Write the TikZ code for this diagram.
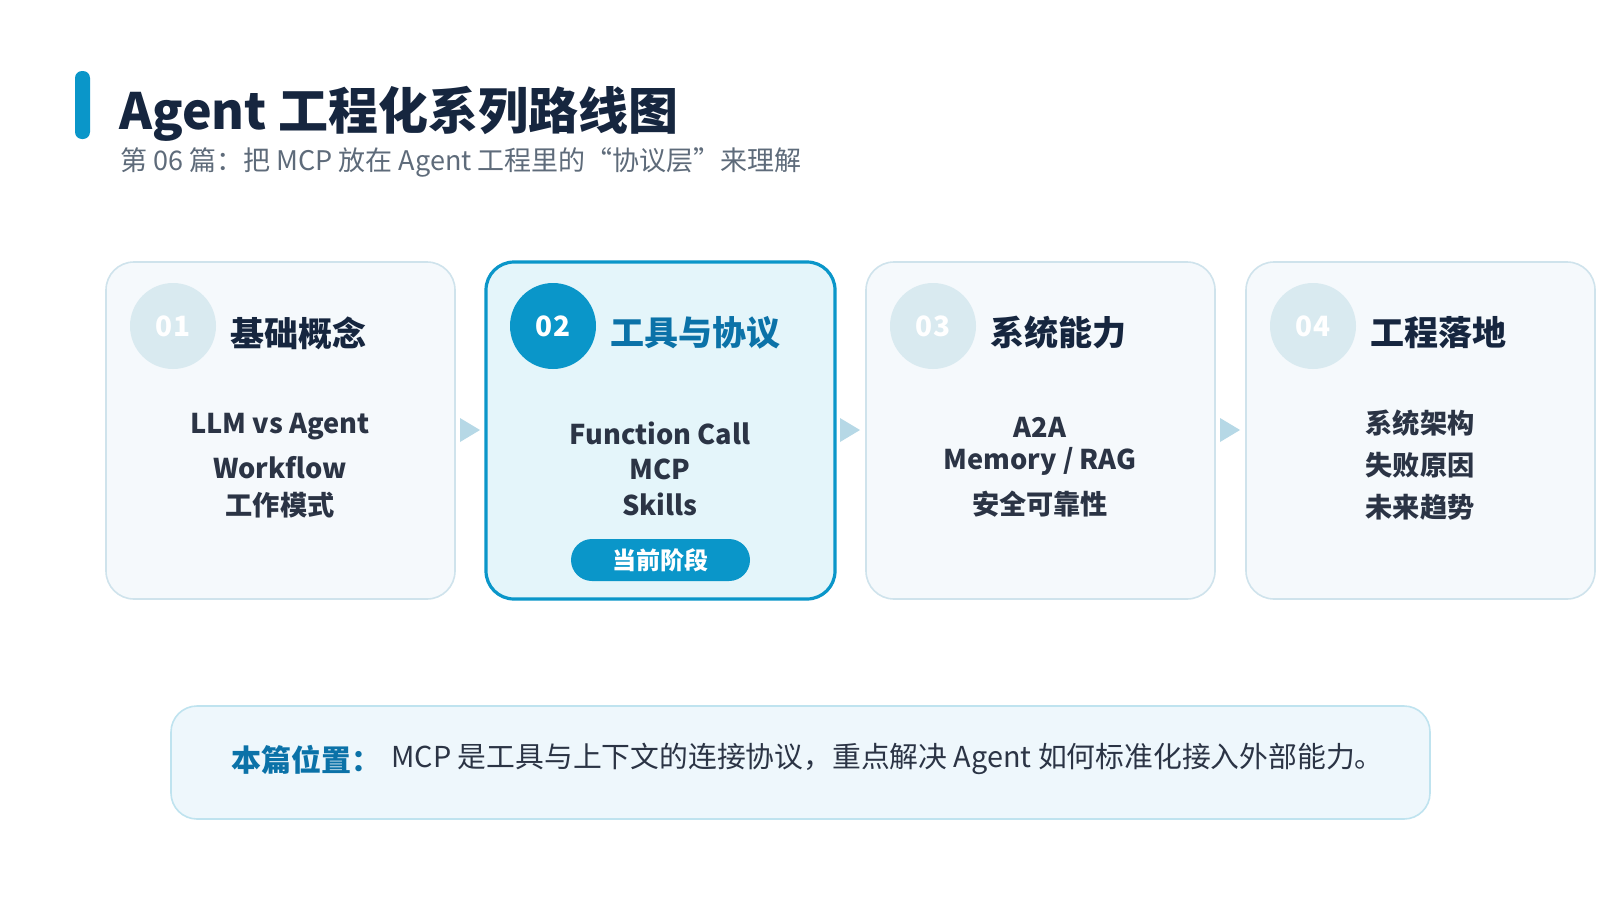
\documentclass[tikz,border=0pt]{standalone}
\usepackage{fontspec}
\setmainfont{Noto Sans CJK SC}
\definecolor{navy}{HTML}{16263F}
\definecolor{body}{HTML}{2B3445}
\definecolor{accent}{HTML}{0A96C9}
\definecolor{accdark}{HTML}{0B72A8}
\definecolor{cardfill}{HTML}{F5F9FC}
\definecolor{cardline}{HTML}{CFE3EC}
\definecolor{actfill}{HTML}{E4F5FA}
\definecolor{circoff}{HTML}{D9EAF0}
\definecolor{arrowc}{HTML}{B6D8E6}
\definecolor{boxfill}{HTML}{EEF7FC}
\definecolor{boxline}{HTML}{BFE3EF}
\definecolor{subg}{HTML}{5E6B7A}
\begin{document}
\begin{tikzpicture}[x=0.5pt,y=-0.5pt,
 card/.style={draw=cardline,line width=0.8pt,fill=cardfill,rounded corners=14pt},
 actcard/.style={draw=accent,line width=1.6pt,fill=actfill,rounded corners=14pt},
 num/.style={circle,minimum size=43pt,inner sep=0pt,text=white,font=\fontsize{14}{14}\selectfont\bfseries},
 ctitle/.style={anchor=west,inner sep=0pt,font=\fontsize{17}{17}\selectfont\bfseries,text=navy},
 line/.style={inner sep=0pt,font=\fontsize{13.6}{13.6}\selectfont\bfseries,text=body},
 tri/.style={fill=arrowc,draw=none}]
\useasboundingbox (0,0) rectangle (1600,900);
\fill[white] (0,0) rectangle (1600,900);
% header
\fill[accent,rounded corners=3.5pt] (75,71) rectangle (90,139);
\node[anchor=west,inner sep=0pt,font=\fontsize{25}{25}\selectfont\bfseries,text=navy] (title) at (119,114) {Agent 工程化系列路线图};
\node[anchor=west,inner sep=0pt,font=\fontsize{13.5}{13.5}\selectfont,text=subg] (sub) at (120,162) {第 06 篇：把 MCP 放在 Agent 工程里的“协议层”来理解};
% cards
\foreach \x in {106,866,1246}{
  \draw[card] (\x,262) rectangle ++(349,337);
}
\draw[actcard] (486,262) rectangle (835,599);
\node[num,fill=circoff] (n1) at (173,326) {01};
\node[num,fill=accent] (n2) at (553,326) {02};
\node[num,fill=circoff] (n3) at (933,326) {03};
\node[num,fill=circoff] (n4) at (1313,326) {04};
\node[ctitle] (t1) at (230,333) {基础概念};
\node[ctitle,text=accdark] (t2) at (610,333) {工具与协议};
\node[ctitle] (t3) at (990,333) {系统能力};
\node[ctitle] (t4) at (1370,333) {工程落地};
\node[line] (a1) at (280,427) {LLM vs Agent};
\node[line] (a2) at (280,468) {Workflow};
\node[line] (a3) at (280,505) {工作模式};
\node[line] (b1) at (660,433) {Function Call};
\node[line] (b2) at (660,469) {MCP};
\node[line] (b3) at (660,504) {Skills};
\node[line] (c1) at (1040,427) {A2A};
\node[line] (c2) at (1040,461) {Memory / RAG};
\node[line] (c3) at (1040,504) {安全可靠性};
\node[line] (d1) at (1420,423) {系统架构};
\node[line] (d2) at (1420,465) {失败原因};
\node[line] (d3) at (1420,507) {未来趋势};
\node[fill=accent,rounded corners=10.5pt,minimum width=89.5pt,minimum height=21pt,inner sep=0pt,text=white,font=\fontsize{12}{12}\selectfont\bfseries] (badge) at (660.5,560) {当前阶段};
% arrows
\foreach \x in {460,840,1220}{
  \fill[tri] (\x,418) -- (\x+20,430) -- (\x,442) -- cycle;
}
% bottom box
\draw[draw=boxline,line width=0.8pt,fill=boxfill,rounded corners=13pt] (171,706) rectangle (1430,819);
\node[anchor=west,inner sep=0pt,font=\fontsize{15}{15}\selectfont\bfseries,text=accdark] (pos) at (231,760) {本篇位置：};
\node[anchor=west,inner sep=0pt,font=\fontsize{14.4}{14.4}\selectfont,text=body] (postext) at (391,759) {MCP 是工具与上下文的连接协议，重点解决 Agent 如何标准化接入外部能力。};
\end{tikzpicture}
\end{document}
